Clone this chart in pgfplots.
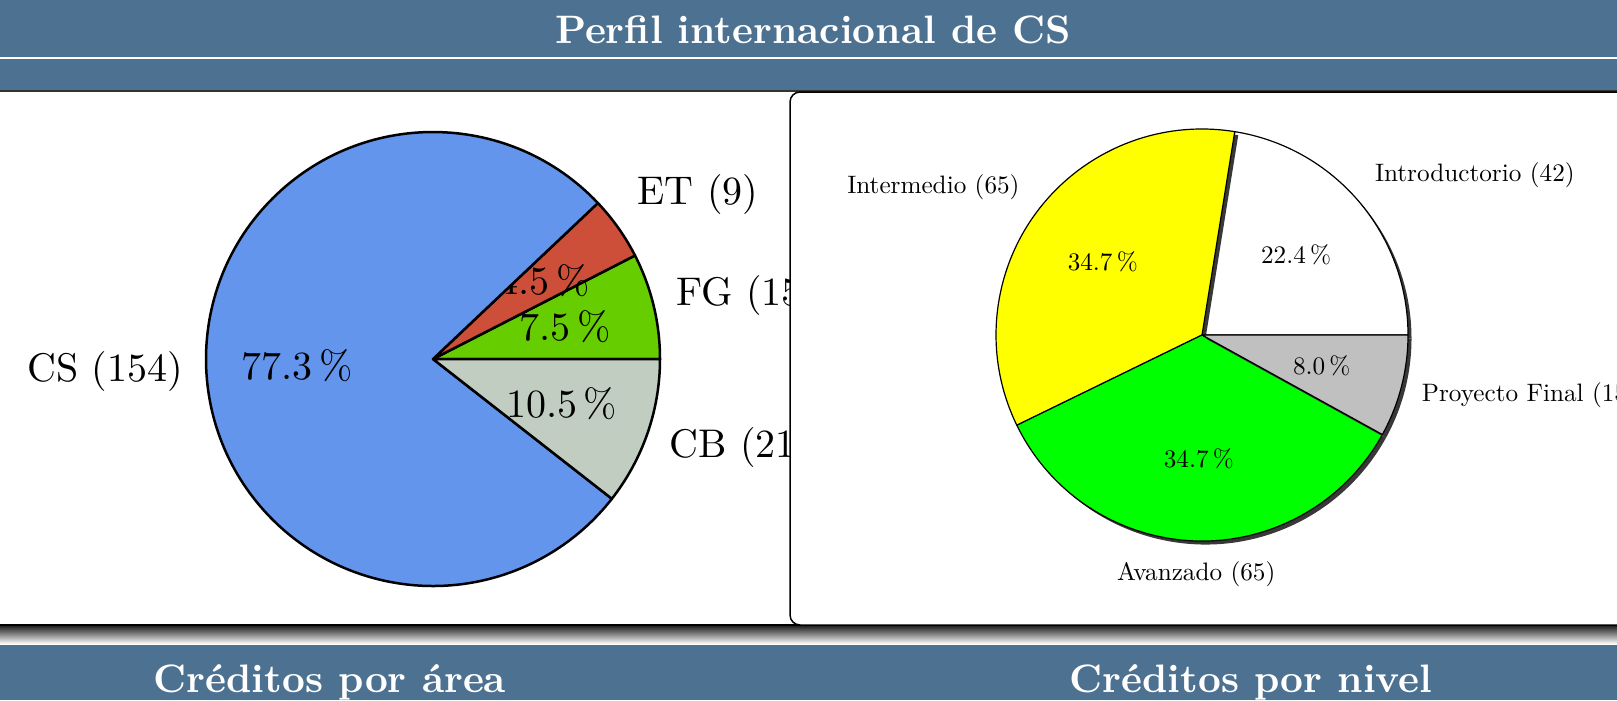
\documentclass[border=0pt]{standalone}
\usepackage{pgfplots}
\usepackage{pgfplotstable}
\pgfplotsset{compat=1.18}

\definecolor{band}{HTML}{4D7190}
\definecolor{cscol}{HTML}{6495ED}
\definecolor{etcol}{HTML}{CD4F39}
\definecolor{fgcol}{HTML}{66CD00}
\definecolor{cbcol}{HTML}{C1CDC1}
\definecolor{intcol}{HTML}{FFFFFF}
\definecolor{medcol}{HTML}{FFFF00}
\definecolor{avcol}{HTML}{00FF00}
\definecolor{pfcol}{HTML}{C0C0C0}

% creditos por area, counter-clockwise from 0 deg
\pgfplotstableread[col sep=comma]{
label,value,color
FG,15,fgcol
ET,9,etcol
CS,154,cscol
CB,21,cbcol
}\areatable

% creditos por nivel
\pgfplotstableread[col sep=comma]{
label,value,color
Introductorio,42,intcol
Intermedio,65,medcol
Avanzado,65,avcol
Proyecto Final,15,pfcol
}\niveltable

\newcommand\basefont{\fontsize{10}{12}\selectfont}

\pgfplotsset{pie axis/.style={hide axis, clip=false, anchor=origin,
    xmin=-1.2, xmax=1.2, ymin=-1.2, ymax=1.2, scale only axis}}
\tikzset{px/.style={x=0.1mm, y=0.1mm},
  titletext/.style={white, font=\basefont\bfseries, scale=1.13, anchor=base}}

% #1 table, #2 radius, #3 outline width, #4 text scale, #5 shadow (0/1)
\newcommand\drawpie[5]{%
  \pgfplotstablegetrowsof{#1}\pgfmathtruncatemacro\pielast{\pgfplotsretval-1}%
  \gdef\pietot{0}%
  \foreach \pieidx in {0,...,\pielast}{%
    \pgfplotstablegetelem{\pieidx}{value}\of{#1}%
    \pgfmathsetmacro\pietmp{\pietot+\pgfplotsretval}\xdef\pietot{\pietmp}}%
  \gdef\pieang{0}%
  \foreach \pieidx in {0,...,\pielast}{%
    \pgfplotstablegetelem{\pieidx}{value}\of{#1}\let\pieval\pgfplotsretval
    \pgfplotstablegetelem{\pieidx}{label}\of{#1}\let\pielab\pgfplotsretval
    \pgfplotstablegetelem{\pieidx}{color}\of{#1}\let\piecol\pgfplotsretval
    \pgfmathsetmacro\piefrac{\pieval/\pietot}%
    \pgfmathsetmacro\pieend{\pieang+360*\piefrac}%
    \pgfmathsetmacro\piemid{(\pieang+\pieend)/2}%
    \pgfmathtruncatemacro\piemil{1000*\piefrac}%
    \pgfmathtruncatemacro\piea{\piemil/10}%
    \pgfmathtruncatemacro\pieb{\piemil-10*\piea}%
    \pgfmathtruncatemacro\piesec{mod(round(\piemid/45),8)}%
    % side labels sit a little further along the slice direction
    \pgfmathsetmacro\pieyoff{(\piesec==0 || \piesec==4) ? 2*sin(\piemid) : 0}%
    \edef\temp{%
      \ifnum#5=1
      \noexpand\fill[black!78, xshift=0.35mm, yshift=-0.35mm] (axis cs:0,0) -- (axis cs:{cos(\pieang)},{sin(\pieang)}) arc[start angle=\pieang, end angle=\pieend, radius=#2] -- cycle;
      \fi
      \noexpand\filldraw[fill=\piecol, draw=black, line width=#3, line join=round] (axis cs:0,0) -- (axis cs:{cos(\pieang)},{sin(\pieang)}) arc[start angle=\pieang, end angle=\pieend, radius=#2] -- cycle;
      \noexpand\node[font=\noexpand\basefont, scale=#4] at (axis cs:{0.6*cos(\piemid)},{0.6*sin(\piemid)}) {\piea.\pieb\noexpand\,\noexpand\%};
      \noexpand\node[font=\noexpand\basefont, scale=#4, inner sep=0pt, yshift=\pieyoff mm, anchor=\ifcase\piesec west\or south west\or south\or south east\or east\or north east\or north\or north west\fi] at (axis cs:{1.1*cos(\piemid)},{1.1*sin(\piemid)}) {\pielab\space(\pieval)};
    }\temp
    \xdef\pieang{\pieend}}%
}

\begin{document}
\begin{tikzpicture}
\begin{scope}[px]
  \fill[band] (0,610) rectangle (1617,700);
  \fill[white] (0,641) rectangle (1617,643);
  \fill[white] (0,75) rectangle (1617,610);
  \fill[black!80] (0,608.5) rectangle (1617,610.5);
  \shade[top color=black!90, bottom color=white] (0,56) rectangle (1617,75);
  \draw[black, line width=0.2mm] (0,75) -- (1617,75);
  \fill[band] (0,0) rectangle (1617,55);
  \node[titletext] at (813,657) {Perfil internacional de CS};
  \node[titletext] at (330,8) {Créditos por área};
  \node[titletext] at (1251,8) {Créditos por nivel};
\end{scope}

\begin{axis}[pie axis, at={(43.3mm,34.1mm)}, x=22.7mm, y=22.7mm]
  \drawpie{\areatable}{22.7mm}{0.25mm}{1.138}{0}
\end{axis}

\begin{scope}[px]
  \draw[fill=white, line width=0.15mm, rounded corners=1mm] (790,75) rectangle (1700,608);
\end{scope}

\begin{axis}[pie axis, at={(120.2mm,36.5mm)}, x=20.6mm, y=20.6mm]
  \drawpie{\niveltable}{20.6mm}{0.12mm}{0.717}{1}
\end{axis}

\pgfresetboundingbox
\path[use as bounding box] (0,0) rectangle (161.7mm,70mm);
\end{tikzpicture}
\end{document}
